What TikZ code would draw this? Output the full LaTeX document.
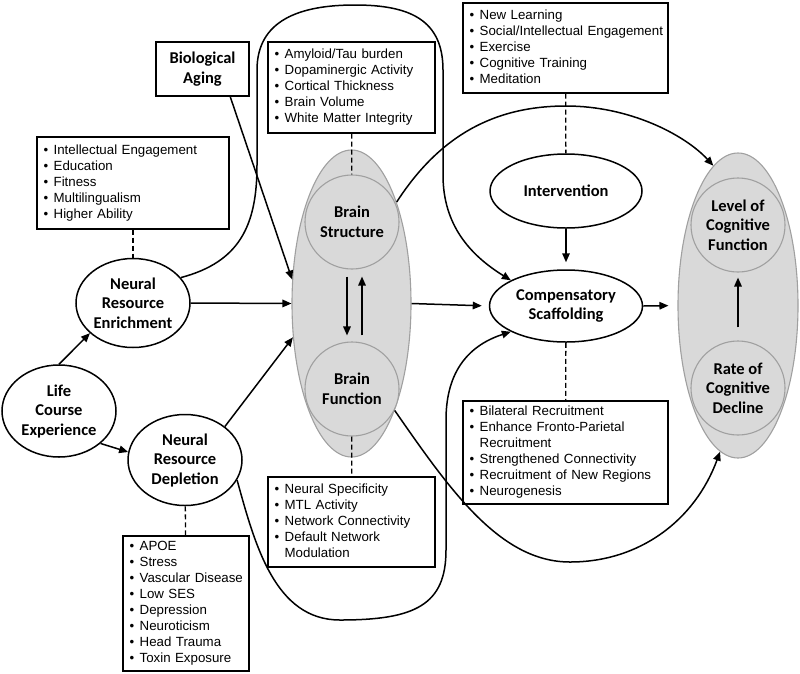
\documentclass[tikz,border=0pt]{standalone}
\usepackage{fontspec}
\usepackage{tikz}
\usetikzlibrary{shapes.geometric,arrows.meta}
\newfontfamily\lblfont{Carlito}
\newfontfamily\itemfont{Liberation Sans}
\definecolor{myfill}{RGB}{217,217,217}
\definecolor{myedge}{RGB}{160,160,160}
\newcommand{\itemlist}[1]{\begin{tabular}{@{}l@{\hspace{5.5pt}}l@{}}#1\end{tabular}}
\newcommand{\bl}{\textbullet}
\tikzset{
    common/.style={draw, line width=1.5pt, inner sep=0pt, align=center,
        font=\lblfont\bfseries\fontsize{16.5}{19.5}\selectfont},
    oval/.style={common, ellipse, fill=white},
    zone/.style={ellipse, draw=myedge, fill=myfill, line width=1.1pt},
    stage/.style={common, circle, draw=myedge, fill=myfill, line width=1.1pt, minimum size=94pt},
    listbox/.style={draw, line width=1.4pt, align=left, inner xsep=6.5pt, inner ysep=0pt,
        font=\itemfont\fontsize{13.3}{16}\selectfont},
    arr/.style={line width=1.5pt, -{Triangle[length=9pt,width=7.5pt]}},
    dashlink/.style={line width=1.3pt, dash pattern=on 5pt off 3pt}
}

\begin{document}
\begin{tikzpicture}[x=1pt, y=-1pt]
    \useasboundingbox (0,0) rectangle (800,673);

    % left side
    \node[oval, minimum width=114pt, minimum height=92pt] (lce) at (59,411) {Life\\Course\\Experience};
    \node[oval, minimum width=114pt, minimum height=89pt] (nre) at (133,303) {Neural\\Resource\\Enrichment};
    \node[oval, minimum width=114pt, minimum height=91pt] (nrd) at (185,460) {Neural\\Resource\\Depletion};
    \node[common, rectangle, minimum width=93pt, minimum height=54pt] (bio) at (202.5,69) {Biological\\Aging};

    % brain
    \node[zone, minimum width=119pt, minimum height=307pt] (brain) at (351.5,303.5) {};
    \node[stage] (bs) at (352,222) {Brain\\Structure};
    \node[stage] (bf) at (352,389) {Brain\\Function};

    % middle
    \node[oval, minimum width=152pt, minimum height=74pt] (intv) at (566,191) {Intervention};
    \node[oval, minimum width=153pt, minimum height=72pt] (comp) at (566,306) {Compensatory\\Scaffolding};

    % cognition
    \node[zone, minimum width=120pt, minimum height=305pt] (cog) at (738,305.5) {};
    \node[stage] (level) at (738,225) {Level of\\Cognitive\\Function};
    \node[stage] (rate) at (738,388) {Rate of\\Cognitive\\Decline};

    % lists
    \node[listbox, text width=179pt, minimum height=92pt] (enrichlist) at (133,183) {\itemlist{
        \bl & Intellectual Engagement\\ \bl & Education\\ \bl & Fitness\\
        \bl & Multilingualism\\ \bl & Higher Ability}};
    \node[listbox, text width=154pt, minimum height=91pt] (structlist) at (351.5,87.5) {\itemlist{
        \bl & Amyloid/Tau burden\\ \bl & Dopaminergic Activity\\ \bl & Cortical Thickness\\
        \bl & Brain Volume\\ \bl & White Matter Integrity}};
    \node[listbox, text width=154pt, minimum height=90pt] (funclist) at (351.5,522) {\itemlist{
        \bl & Neural Specificity\\ \bl & MTL Activity\\ \bl & Network Connectivity\\
        \bl & Default Network\\ & Modulation}};
    \node[listbox, text width=192pt, minimum height=90pt] (intvlist) at (565.5,48) {\itemlist{
        \bl & New Learning\\ \bl & Social/Intellectual Engagement\\ \bl & Exercise\\
        \bl & Cognitive Training\\ \bl & Meditation}};
    \node[listbox, text width=192pt, minimum height=103pt] (complist) at (565.5,452.5) {\itemlist{
        \bl & Bilateral Recruitment\\ \bl & Enhance Fronto-Parietal\\ & Recruitment\\
        \bl & Strengthened Connectivity\\ \bl & Recruitment of New Regions\\ \bl & Neurogenesis}};
    \node[listbox, text width=113pt, minimum height=135pt] (deplist) at (186,603.5) {\itemlist{
        \bl & APOE\\ \bl & Stress\\ \bl & Vascular Disease\\ \bl & Low SES\\
        \bl & Depression\\ \bl & Neuroticism\\ \bl & Head Trauma\\ \bl & Toxin Exposure}};

    % dashed links
    \draw[dashlink] (enrichlist) -- (nre);
    \draw[dashlink] (structlist) -- (bs);
    \draw[dashlink] (bf) -- (funclist);
    \draw[dashlink] (nrd) -- (deplist);
    \draw[dashlink] (intvlist) -- (intv);
    \draw[dashlink] (comp) -- (complist);

    % straight arrows
    \draw[arr] (lce.north) -- (nre.215);
    \draw[arr] (lce.-38) -- (nrd.172);
    \draw[arr] (nre.east) -- (brain.west);
    \draw[arr] (nrd.40) -- (brain.210);
    \draw[arr] (bio.-45) -- (brain.158);
    \draw[arr, shorten >=7pt] (brain.east) -- (comp.west);
    \draw[arr, shorten >=9pt] (comp.east) -- (cog.west);
    \draw[arr, shorten >=7pt] (intv.south) -- (comp.north);
    \draw[arr, shorten <=7pt, shorten >=6pt] ([xshift=-5pt]bs.south) -- ([xshift=-5pt]bf.north);
    \draw[arr, shorten <=6pt, shorten >=7pt] ([xshift=10pt]bf.north) -- ([xshift=10pt]bs.south);
    \draw[arr, shorten <=13pt, shorten >=5pt] (rate.north) -- (level.south);

    % curved arrows
    \draw[arr] (nre.28) .. controls (240,262) and (257,225) .. (257,165) -- (257,70)
        .. controls (257,20) and (300,5) .. (355,5) .. controls (410,5) and (443,20) .. (443,70)
        -- (443,175) .. controls (443,225) and (470,255) .. (comp.155);
    \draw[arr] (brain.66) .. controls (440,135) and (495,106) .. (566,106)
        .. controls (630,106) and (685,135) .. (cog.100);
    \draw[arr] (brain.-68) .. controls (450,490) and (500,562) .. (570,562)
        .. controls (640,562) and (695,520) .. (cog.-97);
    \draw[arr] (nrd.-21) .. controls (255,545) and (275,620) .. (340,620)
        .. controls (415,620) and (446,605) .. (446,550) -- (446,420)
        .. controls (446,370) and (470,345) .. (comp.205);
\end{tikzpicture}
\end{document}
